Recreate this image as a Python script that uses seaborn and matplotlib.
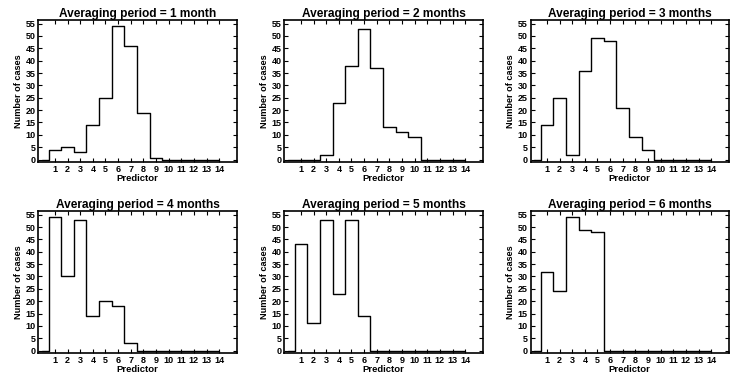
import numpy as np
import pandas as pd
import matplotlib
matplotlib.use("Agg")
import matplotlib.pyplot as plt
import seaborn as sns

# predictor index 0..14, counts
predictor = list(range(0, 15))
p1 = [0, 4, 5, 3, 14, 25, 54, 46, 19, 0.5, 0, 0, 0, 0, 0]
p2 = [0, 0, 0, 2, 23, 38, 53, 37, 13, 11, 9, 0, 0, 0, 0]
p3 = [0, 14, 25, 2, 36, 49, 48, 21, 9, 4, 0, 0, 0, 0, 0]
p4 = [0, 54, 30, 53, 14, 20, 18, 3, 0, 0, 0, 0, 0, 0, 0]
p5 = [0, 43, 11, 53, 23, 53, 14, 0, 0, 0, 0, 0, 0, 0, 0]
p6 = [0, 32, 24, 54, 49, 48, 0, 0, 0, 0, 0, 0, 0, 0, 0]
titles = ["Averaging period = 1 month", "Averaging period = 2 months",
          "Averaging period = 3 months", "Averaging period = 4 months",
          "Averaging period = 5 months", "Averaging period = 6 months"]
series = [p1, p2, p3, p4, p5, p6]

sns.set_style("ticks", {"axes.edgecolor": "black", "text.color": "black",
                        "xtick.color": "black", "ytick.color": "black",
                        "axes.labelcolor": "black"})
plt.rcParams['font.family'] = ['Liberation Sans', 'DejaVu Sans']
plt.rcParams['font.weight'] = 'bold'

fig, axes = plt.subplots(2, 3, figsize=(7.4, 3.76), dpi=100)
plt.subplots_adjust(left=0.052, right=0.985, top=0.947, bottom=0.061,
                    wspace=0.24, hspace=0.345)

for ax, vals, t in zip(axes.flat, series, titles):
    df = pd.DataFrame({"Predictor": predictor, "n": vals})
    sns.lineplot(data=df, x="Predictor", y="n", ax=ax, color="black",
                 linewidth=1.0, drawstyle="steps-mid")
    ax.set_xlim(-0.3, 15.4)
    ax.set_ylim(-1, 56.5)
    ax.set_xticks(range(1, 15))
    ax.set_yticks(range(0, 56, 5))
    ax.tick_params(direction="in", top=True, right=True, length=3,
                   width=0.8, labelsize=6.5, pad=2, colors="black")
    for lab in ax.get_xticklabels() + ax.get_yticklabels():
        lab.set_fontweight("bold")
    for s in ax.spines.values():
        s.set_linewidth(1.2)
        s.set_color("black")
    ax.set_title(t, fontsize=8.6, fontweight="bold", pad=2, color="black")
    ax.set_xlabel("Predictor", fontsize=6.8, fontweight="bold", labelpad=0)
    ax.set_ylabel("Number of cases", fontsize=6.6, fontweight="bold", labelpad=2)

fig.savefig("out.png", dpi=100)
